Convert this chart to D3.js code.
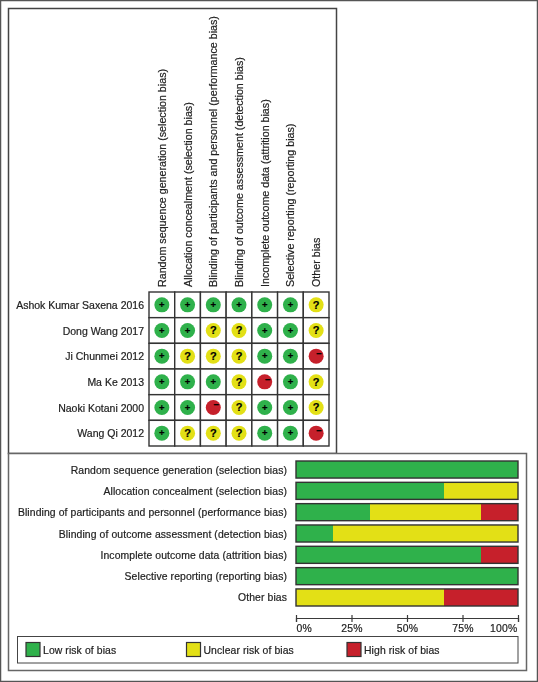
<!DOCTYPE html>
<html>
<head>
<meta charset="utf-8">
<script src="https://cdn.jsdelivr.net/npm/d3@7"></script>
<style>
  html, body { margin: 0; padding: 0; background: #fff; }
  svg { display: block; filter: blur(0.3px); }
  text { font-family: "Liberation Sans", Arial, sans-serif; fill: #222; stroke: #222; stroke-width: 0.2px; }
</style>
</head>
<body>
<svg id="chart" width="538" height="682"></svg>
<script>
var domains = [
    'Random sequence generation (selection bias)'
  , 'Allocation concealment (selection bias)'
  , 'Blinding of participants and personnel (performance bias)'
  , 'Blinding of outcome assessment (detection bias)'
  , 'Incomplete outcome data (attrition bias)'
  , 'Selective reporting (reporting bias)'
  , 'Other bias'
]
var studies = [
    'Ashok Kumar Saxena 2016'
  , 'Dong Wang 2017'
  , 'Ji Chunmei 2012'
  , 'Ma Ke 2013'
  , 'Naoki Kotani 2000'
  , 'Wang Qi 2012'
]
// one row per study, one judgement per domain
var judgements = [
    ['+', '+', '+', '+', '+', '+', '?']
  , ['+', '+', '?', '?', '+', '+', '?']
  , ['+', '?', '?', '?', '+', '+', '-']
  , ['+', '+', '+', '?', '-', '+', '?']
  , ['+', '+', '-', '?', '+', '+', '?']
  , ['+', '?', '?', '?', '+', '+', '-']
]
var risks = ['+', '?', '-']
var riskLabels = ['Low risk of bias', 'Unclear risk of bias', 'High risk of bias']
var riskColors = ['#2fb14b', '#e3e016', '#c6202b']
var percentTicks = [0, 25, 50, 75, 100]

var svg = d3.select('#chart')
var line = '#3a3a3a'

function frame(x, y, w, h, stroke, sw) {
  svg.append('rect')
    .attr('x', x).attr('y', y).attr('width', w).attr('height', h)
    .attr('fill', 'none').attr('stroke', stroke).attr('stroke-width', sw)
}

frame(0.5, 0.5, 537, 681, '#555', 1.5)
frame(8.5, 8.5, 328, 445, '#444', 1.5)
svg.append('rect').attr('x', 8.5).attr('y', 453.5).attr('width', 518).attr('height', 217)
  .attr('fill', '#fff').attr('stroke', '#666').attr('stroke-width', 1.5)

// summary table
var col = d3.scaleBand().domain(d3.range(domains.length)).range([149, 329])
var row = d3.scaleBand().domain(d3.range(studies.length)).range([292, 446])

svg.append('g').selectAll('text').data(domains).enter().append('text')
  .attr('transform', function(d, i) {
    return 'translate(' + [col(i) + col.bandwidth() / 2 + 4, 287] + ') rotate(-90)'
  })
  .attr('font-size', 10.7)
  .text(function(d) { return d })

svg.append('g').selectAll('text').data(studies).enter().append('text')
  .attr('x', 144)
  .attr('y', function(d, i) { return row(i) + row.bandwidth() / 2 + 4 })
  .attr('text-anchor', 'end')
  .attr('font-size', 10.5)
  .text(function(d) { return d })

var cells = []
judgements.forEach(function(r, i) {
  r.forEach(function(j, k) { cells.push({row: i, col: k, risk: j}) })
})

var cell = svg.append('g').selectAll('g').data(cells).enter().append('g')
  .attr('transform', function(d) {
    return 'translate(' + [col(d.col), row(d.row)] + ')'
  })

cell.append('rect')
  .attr('width', col.bandwidth())
  .attr('height', row.bandwidth())
  .attr('fill', '#fff')
  .attr('stroke', '#333')
  .attr('stroke-width', 1.4)

cell.append('circle')
  .attr('cx', col.bandwidth() / 2)
  .attr('cy', row.bandwidth() / 2)
  .attr('r', 7.5)
  .attr('fill', function(d) { return riskColors[risks.indexOf(d.risk)] })

cell.append('text')
  .attr('x', function(d) { return col.bandwidth() / 2 + (d.risk === '-' ? 3 : 0) })
  .attr('y', function(d) { return row.bandwidth() / 2 + (d.risk === '-' ? 1 : d.risk === '?' ? 4 : 3.2) })
  .attr('text-anchor', 'middle')
  .attr('font-size', function(d) { return d.risk === '?' ? 11 : 9.5 })
  .attr('font-weight', 'bold')
  .style('fill', '#000')
  .style('stroke', '#000')
  .text(function(d) { return d.risk === '-' ? '\u2212' : d.risk })

// risk of bias graph, built from the table above
var x = d3.scaleLinear().domain([0, 100]).range([296, 518])
var y = d3.scaleBand().domain(d3.range(domains.length)).range([461, 606]).paddingInner(0.2)

var totals = domains.map(function(d, k) {
  var o = {}
  risks.forEach(function(r) {
    o[r] = judgements.filter(function(s) { return s[k] === r }).length / studies.length * 100
  })
  return o
})
var stacked = d3.stack().keys(risks)(totals)

svg.append('g').selectAll('text').data(domains).enter().append('text')
  .attr('x', 287)
  .attr('y', function(d, i) { return y(i) + y.bandwidth() / 2 + 4 })
  .attr('text-anchor', 'end')
  .attr('font-size', 10.4)
  .attr('letter-spacing', 0.1)
  .text(function(d) { return d })

svg.append('g').selectAll('g').data(stacked).enter().append('g')
  .attr('fill', function(d, i) { return riskColors[i] })
  .selectAll('rect').data(function(d) { return d }).enter().append('rect')
  .attr('x', function(d) { return x(d[0]) })
  .attr('y', function(d, i) { return y(i) })
  .attr('width', function(d) { return x(d[1]) - x(d[0]) })
  .attr('height', y.bandwidth())

svg.append('g').selectAll('rect').data(domains).enter().append('rect')
  .attr('x', x(0))
  .attr('y', function(d, i) { return y(i) })
  .attr('width', x(100) - x(0))
  .attr('height', y.bandwidth())
  .attr('fill', 'none')
  .attr('stroke', '#333')
  .attr('stroke-width', 1.4)

var axis = d3.axisBottom(x)
  .tickValues(percentTicks)
  .tickFormat(function(d) { return d + '%' })
  .tickSize(4)

var ax = svg.append('g').attr('transform', 'translate(0,618)').call(axis)
ax.select('.domain').attr('stroke', line).attr('stroke-width', 1.2)
ax.selectAll('.tick line').attr('y1', -3).attr('stroke', line).attr('stroke-width', 1.2)
ax.selectAll('.tick text')
  .attr('y', 7)
  .attr('font-size', 10.4)
  .attr('font-family', '"Liberation Sans", Arial, sans-serif')
  .attr('letter-spacing', 0.25)
  // the end labels stay inside the bar span
  .attr('text-anchor', function(d) { return d === 0 ? 'start' : d === 100 ? 'end' : 'middle' })
  .attr('dx', function(d) { return d === 100 ? -1 : 0 })

// legend
svg.append('rect').attr('x', 17.5).attr('y', 636.5).attr('width', 500.5).attr('height', 26.5)
  .attr('fill', '#fff').attr('stroke', '#444').attr('stroke-width', 1)

var legendX = d3.scaleOrdinal().domain(risks).range([26, 186.5, 347])
var legend = svg.append('g').selectAll('g').data(risks).enter().append('g')
  .attr('transform', function(d) { return 'translate(' + [legendX(d), 642.5] + ')' })

legend.append('rect')
  .attr('width', 14).attr('height', 14)
  .attr('fill', function(d, i) { return riskColors[i] })
  .attr('stroke', '#333').attr('stroke-width', 1.2)

legend.append('text')
  .attr('x', 17)
  .attr('y', 11)
  .attr('font-size', 10.4)
  .attr('letter-spacing', 0.1)
  .text(function(d, i) { return riskLabels[i] })
</script>
</body>
</html>
